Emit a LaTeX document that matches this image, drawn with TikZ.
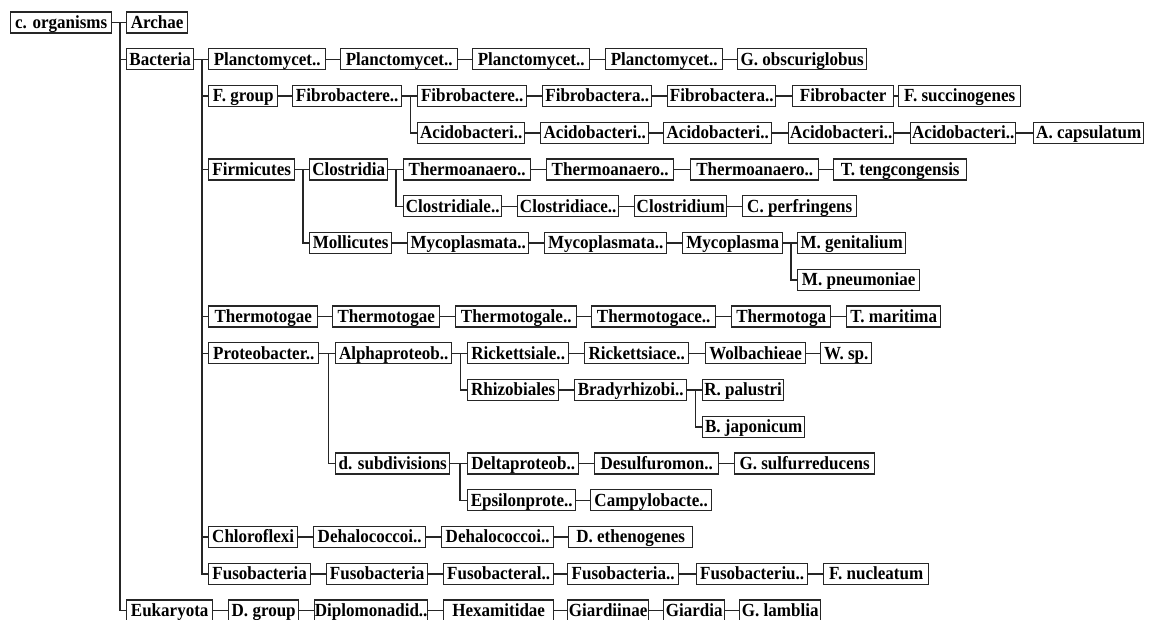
\documentclass[tikz,border=0pt]{standalone}
\usepackage{fontspec}
\setmainfont{Liberation Serif}[FakeStretch=0.92]
\tikzset{
  taxbox/.style={draw=black!85, line width=1.4pt, fill=white, anchor=west,
    inner xsep=0pt, inner ysep=0pt, text height=16.4pt, text depth=4.6pt,
    font=\bfseries\fontsize{18.5}{20}\selectfont},
  link/.style={draw=black!85, line width=1.5pt}
}
% \taxon{name}{label}{left x}{right x}{row y}
\newcommand\taxon[5]{\node[taxbox, minimum width={#4-#3}] (#1) at (#3,#5) {#2};}
\begin{document}
\begin{tikzpicture}[x=1pt,y=-1pt]
\useasboundingbox (0,0) rectangle (1150,619);
\clip (0,0) rectangle (1150,619);
\fill[white] (0,0) rectangle (1150,619);

% row centres
\def\ra{22.5}\def\rb{59.25}\def\rc{96}\def\rd{132.75}\def\re{169.5}
\def\rf{206.25}\def\rg{243}\def\rh{279.75}\def\ri{316.5}\def\rj{353.25}
\def\rk{390}\def\rl{426.75}\def\rm{463.5}\def\rn{500.25}\def\ro{537}
\def\rp{573.75}\def\rq{610.5}

% ---- nodes ----
\taxon{root}{c. organisms}{10}{111}{\ra}
\taxon{archae}{Archae}{126}{187}{\ra}

\taxon{bact}{Bacteria}{126}{193}{\rb}
\taxon{pl1}{Planctomycet..}{208}{325}{\rb}
\taxon{pl2}{Planctomycet..}{340}{457}{\rb}
\taxon{pl3}{Planctomycet..}{472}{589}{\rb}
\taxon{pl4}{Planctomycet..}{605}{722}{\rb}
\taxon{gobs}{G. obscuriglobus}{737}{866}{\rb}

\taxon{fgrp}{F. group}{208}{277}{\rc}
\taxon{fb1}{Fibrobactere..}{292}{401}{\rc}
\taxon{fb2}{Fibrobactere..}{417}{526}{\rc}
\taxon{fb3}{Fibrobactera..}{542}{651}{\rc}
\taxon{fb4}{Fibrobactera..}{667}{775}{\rc}
\taxon{fb5}{Fibrobacter}{792}{893}{\rc}
\taxon{fsuc}{F. succinogenes}{898}{1020}{\rc}

\taxon{ac1}{Acidobacteri..}{417}{524}{\rd}
\taxon{ac2}{Acidobacteri..}{540}{648}{\rd}
\taxon{ac3}{Acidobacteri..}{663}{771}{\rd}
\taxon{ac4}{Acidobacteri..}{788}{893}{\rd}
\taxon{ac5}{Acidobacteri..}{910}{1015}{\rd}
\taxon{acap}{A. capsulatum}{1033}{1143}{\rd}

\taxon{firm}{Firmicutes}{208}{294}{\re}
\taxon{clos}{Clostridia}{309}{387}{\re}
\taxon{th1}{Thermoanaero..}{403}{530}{\re}
\taxon{th2}{Thermoanaero..}{546}{673}{\re}
\taxon{th3}{Thermoanaero..}{690}{818}{\re}
\taxon{tteng}{T. tengcongensis}{833}{966}{\re}

\taxon{cl1}{Clostridiale..}{403}{501}{\rf}
\taxon{cl2}{Clostridiace..}{517}{618}{\rf}
\taxon{cl3}{Clostridium}{634}{726}{\rf}
\taxon{cperf}{C. perfringens}{742}{856}{\rf}

\taxon{moll}{Mollicutes}{309}{391}{\rg}
\taxon{my1}{Mycoplasmata..}{407}{528}{\rg}
\taxon{my2}{Mycoplasmata..}{544}{666}{\rg}
\taxon{my3}{Mycoplasma}{682}{782}{\rg}
\taxon{mgen}{M. genitalium}{797}{905}{\rg}

\taxon{mpneu}{M. pneumoniae}{797}{919}{\rh}

\taxon{tg1}{Thermotogae}{208}{317}{\ri}
\taxon{tg2}{Thermotogae}{332}{439}{\ri}
\taxon{tg3}{Thermotogale..}{455}{576}{\ri}
\taxon{tg4}{Thermotogace..}{591}{715}{\ri}
\taxon{tg5}{Thermotoga}{731}{830}{\ri}
\taxon{tmar}{T. maritima}{846}{940}{\ri}

\taxon{prot}{Proteobacter..}{208}{318}{\rj}
\taxon{alpha}{Alphaproteob..}{335}{451}{\rj}
\taxon{ri1}{Rickettsiale..}{467}{568}{\rj}
\taxon{ri2}{Rickettsiace..}{584}{688}{\rj}
\taxon{wolb}{Wolbachieae}{705}{805}{\rj}
\taxon{wsp}{W. sp.}{820}{871}{\rj}

\taxon{rhiz}{Rhizobiales}{467}{558}{\rk}
\taxon{brad}{Bradyrhizobi..}{574}{686}{\rk}
\taxon{rpal}{R. palustri}{702}{783}{\rk}

\taxon{bjap}{B. japonicum}{702}{804}{\rl}

\taxon{dsub}{d. subdivisions}{335}{449}{\rm}
\taxon{delta}{Deltaproteob..}{467}{578}{\rm}
\taxon{desu}{Desulfuromon..}{594}{718}{\rm}
\taxon{gsul}{G. sulfurreducens}{734}{874}{\rm}

\taxon{eps}{Epsilonprote..}{467}{575}{\rn}
\taxon{camp}{Campylobacte..}{590}{711}{\rn}

\taxon{chlo}{Chloroflexi}{208}{297}{\ro}
\taxon{de1}{Dehalococcoi..}{313}{425}{\ro}
\taxon{de2}{Dehalococcoi..}{441}{553}{\ro}
\taxon{deth}{D. ethenogenes}{568}{692}{\ro}

\taxon{fu1}{Fusobacteria}{208}{310}{\rp}
\taxon{fu2}{Fusobacteria}{326}{427}{\rp}
\taxon{fu3}{Fusobacteral..}{443}{553}{\rp}
\taxon{fu4}{Fusobacteria..}{567}{678}{\rp}
\taxon{fu5}{Fusobacteriu..}{696}{807}{\rp}
\taxon{fnuc}{F. nucleatum}{823}{928}{\rp}

\taxon{euk}{Eukaryota}{126}{212}{\rq}
\taxon{dgrp}{D. group}{228}{298}{\rq}
\taxon{dip}{Diplomonadid..}{314}{427}{\rq}
\taxon{hex}{Hexamitidae}{443}{553}{\rq}
\taxon{gdi}{Giardiinae}{567}{648}{\rq}
\taxon{gia}{Giardia}{663}{724}{\rq}
\taxon{glam}{G. lamblia}{739}{820}{\rq}

% ---- connectors ----
% single child: straight line; several children: elbow through a shared trunk
\newcommand\chain[1]{\foreach \a/\b in {#1} \path[link] (\a.east) -- (\b.west);}
\newcommand\fork[3]{\foreach \c in {#3} \path[link] (#1.east) -- ++(#2,0) |- (\c.west);}

\fork{root}{7.5}{archae,bact,euk}
\fork{bact}{7.5}{pl1,fgrp,firm,tg1,prot,chlo,fu1}
\chain{pl1/pl2,pl2/pl3,pl3/pl4,pl4/gobs}
\chain{fgrp/fb1}
\fork{fb1}{8}{fb2,ac1}
\chain{fb2/fb3,fb3/fb4,fb4/fb5,fb5/fsuc}
\chain{ac1/ac2,ac2/ac3,ac3/ac4,ac4/ac5,ac5/acap}
\fork{firm}{7.5}{clos,moll}
\fork{clos}{7.5}{th1,cl1}
\chain{th1/th2,th2/th3,th3/tteng}
\chain{cl1/cl2,cl2/cl3,cl3/cperf}
\chain{moll/my1,my1/my2,my2/my3}
\fork{my3}{7.5}{mgen,mpneu}
\chain{tg1/tg2,tg2/tg3,tg3/tg4,tg4/tg5,tg5/tmar}
\fork{prot}{9}{alpha,dsub}
\fork{alpha}{8}{ri1,rhiz}
\chain{ri1/ri2,ri2/wolb,wolb/wsp}
\chain{rhiz/brad}
\fork{brad}{8}{rpal,bjap}
\fork{dsub}{9.5}{delta,eps}
\chain{delta/desu,desu/gsul}
\chain{eps/camp}
\chain{chlo/de1,de1/de2,de2/deth}
\chain{fu1/fu2,fu2/fu3,fu3/fu4,fu4/fu5,fu5/fnuc}
\chain{euk/dgrp,dgrp/dip,dip/hex,hex/gdi,gdi/gia,gia/glam}
\end{tikzpicture}
\end{document}
